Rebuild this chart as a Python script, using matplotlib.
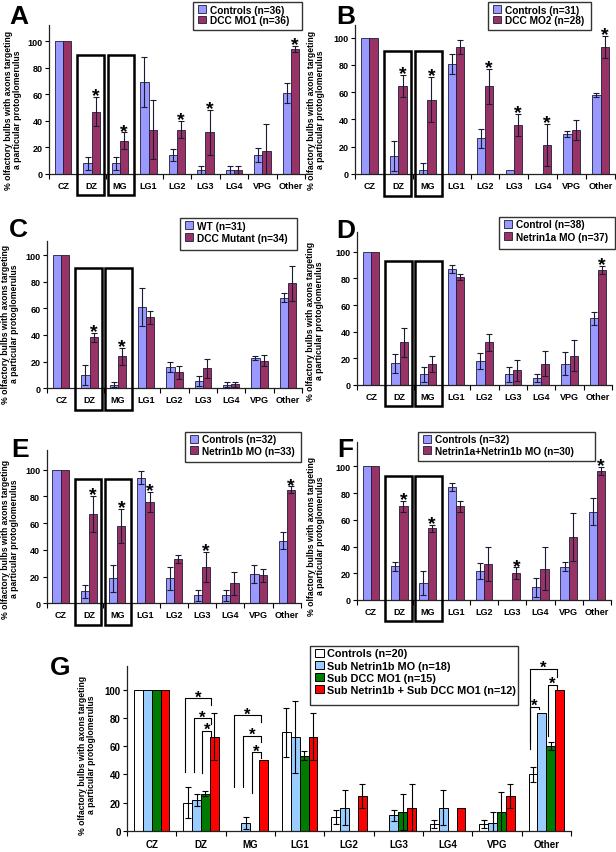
import numpy as np
import matplotlib
matplotlib.use('Agg')
import matplotlib.pyplot as plt
from matplotlib.patches import Rectangle, Patch

plt.rcParams['font.family'] = ['Liberation Sans', 'DejaVu Sans']
plt.rcParams['font.weight'] = 'bold'

# ------------------------------------------------------------
# data
# ------------------------------------------------------------
cats = ['CZ', 'DZ', 'MG', 'LG1', 'LG2', 'LG3', 'LG4', 'VPG', 'Other']

# A
a_labels = ['Controls (n=36)', 'DCC MO1 (n=36)']
a_ctrl = [100, 8, 8, 69.5, 14.3, 3, 3, 14.3, 61]
a_ctrl_err = [0, 5, 5, 19, 4.5, 2.7, 2.7, 5.5, 7.3]
a_mo = [100, 47, 25, 33.4, 33.4, 31.4, 3, 17, 94]
a_mo_err = [0, 11, 6.3, 22, 6.6, 17, 2.7, 20.6, 2.3]
a_star = [1, 2, 4, 5, 8]

# B
b_labels = ['Controls (n=31)', 'DCC MO2 (n=28)']
b_ctrl = [100, 13.4, 3.2, 81, 26.2, 3.2, 0, 29.3, 58]
b_ctrl_err = [0, 11, 4.6, 7.3, 6.8, 0, 0, 2.5, 1.2]
b_mo = [100, 64.3, 54.5, 93, 64.3, 36, 21.3, 32.3, 93.4]
b_mo_err = [0, 8, 16.4, 5.3, 12.7, 7.8, 15.4, 7.6, 8]
b_star = [1, 2, 4, 5, 6, 8]

# C
c_labels = ['WT (n=31)', 'DCC Mutant (n=34)']
c_ctrl = [100, 10, 2.8, 61, 15.8, 5.8, 2.8, 23, 68]
c_ctrl_err = [0, 7.5, 1.8, 14, 3.8, 3.8, 1.8, 1.5, 3.5]
c_mo = [100, 38.3, 24, 53.3, 12, 15, 3, 20.8, 78.8]
c_mo_err = [0, 3.3, 6.3, 5, 5, 7, 2, 4.2, 13.2]
c_star = [1, 2]

# D
d_labels = ['Control (n=38)', 'Netrin1a MO (n=37)']
d_ctrl = [100, 16.3, 8, 87, 18, 8, 5, 16, 50]
d_ctrl_err = [0, 7, 5.8, 3, 6, 5.8, 3, 8.5, 5]
d_mo = [100, 32, 16, 81, 32, 11, 16, 22, 86.3]
d_mo_err = [0, 10.8, 6, 2, 6.3, 8, 9.3, 11.8, 3.3]
d_star = [8]

# E
e_labels = ['Controls (n=32)', 'Netrin1b MO (n=33)']
e_ctrl = [100, 9, 18.8, 94, 18.8, 6, 6, 22, 46.8]
e_ctrl_err = [0, 5, 10.2, 5, 8.7, 4.3, 4.3, 6.8, 6.3]
e_mo = [100, 66.8, 58, 76, 33.3, 27, 15, 21, 85]
e_mo_err = [0, 13.8, 12.5, 7.5, 3, 11.3, 8.8, 4.8, 2.5]
e_star = [1, 2, 3, 5, 8]

# F
f_labels = ['Controls (n=32)', 'Netrin1a+Netrin1b MO (n=30)']
f_ctrl = [100, 25.2, 12.6, 84.5, 22, 0, 9.4, 25, 66]
f_ctrl_err = [0, 3.5, 9.1, 3, 6, 0, 6.9, 3.5, 10]
f_mo = [100, 70, 53.6, 70, 26.7, 20, 23.5, 47, 96.5]
f_mo_err = [0, 4.3, 2.5, 4.3, 12.6, 4.4, 15.8, 18, 3]
f_star = [1, 2, 5, 8]

# G
g_labels = ['Controls (n=20)', 'Sub Netrin1b MO (n=18)', 'Sub DCC MO1 (n=15)',
            'Sub Netrin1b + Sub DCC MO1 (n=12)']
g_ctrl = [100, 20, 0, 69.9, 9.9, 0, 4.7, 5, 40]
g_ctrl_err = [0, 11, 0, 17.2, 5.2, 0, 2.8, 3, 5.5]
g_n1b = [100, 22.1, 5.6, 66.8, 16.5, 11, 16.5, 5.5, 83.3]
g_n1b_err = [0, 4.3, 4.2, 25.4, 12.5, 3.6, 12.5, 8, 0]
g_dcc = [100, 26.4, 0, 53.4, 0, 13.4, 0, 13.3, 60]
g_dcc_err = [0, 1.9, 0, 3.5, 0, 12.5, 0, 14, 3]
g_both = [100, 66.8, 50, 66.8, 24.7, 16.5, 16.5, 25, 100]
g_both_err = [0, 16.7, 0, 16.7, 8.7, 16.7, 0, 8.5, 0]
# significance brackets: (category, bar from, bar to, leg low from, top, leg low to)
g_brackets = [
    (1, 0, 3, 41.5, 93.9, 89.2),
    (1, 1, 3, 41.5, 79.7, 75.7),
    (1, 2, 3, 41.0, 71.0, 67.0),
    (2, 0, 3, 31.0, 82.0, 77.4),
    (2, 1, 3, 31.0, 67.5, 63.2),
    (2, 2, 3, 27.0, 55.7, 52.0),
    (8, 0, 3, 62.7, 114.8, 109.0),
    (8, 2, 3, 67.0, 103.5, 100.5),
    (8, 0, 1, 58.0, 88.0, 86.0),
]

# ------------------------------------------------------------
# layout helpers
# ------------------------------------------------------------
W, H = 616, 853
fig = plt.figure(figsize=(W / 100, H / 100), dpi=100)

BLUE = '#9999FF'
MAROON = '#993366'
EDGE = '#1c1c3a'
YLABEL = '% olfactory bulbs with axons targeting\na particular protoglomerulus'


def make_ax(left, right, y0, y100, ymax):
    ppu = (y0 - y100) / 100
    ax = fig.add_axes([left / W, 1 - y0 / H, (right - left) / W, ppu * ymax / H])
    ax.set_ylim(0, ymax)
    ax.set_xlim(-0.5, 8.5)
    for s in ['top', 'right']:
        ax.spines[s].set_visible(False)
    for s in ['left', 'bottom']:
        ax.spines[s].set_linewidth(0.9)
        ax.spines[s].set_color('#222222')
    ax.set_yticks(range(0, 101, 20))
    ax.tick_params(axis='y', direction='out', length=3, width=0.8, labelsize=6.5, pad=1.5)
    ax.set_xticks(range(9))
    ax.set_xticklabels(cats)
    ax.set_xticks(np.arange(-0.5, 9, 1), minor=True)
    ax.tick_params(axis='x', which='major', length=0, labelsize=6.5, pad=5)
    ax.tick_params(axis='x', which='minor', direction='out', length=3.5, width=0.8)
    return ax


def star(ax, x, yc, fs=14):
    ax.annotate('*', (x, yc), xytext=(0, -0.546 * fs), textcoords='offset points',
                ha='center', va='baseline', fontsize=fs, fontweight='bold',
                annotation_clip=False)


def boxed_legend(ax, handles, labels, box, spacing, size=7.3):
    # frame drawn by hand so its size follows the reference
    x0, y0, x1, y1 = box
    ax.add_patch(Rectangle((x0 / W, 1 - y1 / H), (x1 - x0) / W, (y1 - y0) / H,
                           transform=fig.transFigure, fill=True, facecolor='white',
                           edgecolor='#333333', linewidth=1.0, zorder=5.5,
                           clip_on=False))
    leg = ax.legend(handles, labels, loc='upper left',
                    bbox_to_anchor=((x0 + 5) / W, 1 - (y0 + 2.5) / H),
                    bbox_transform=fig.transFigure, borderaxespad=0, borderpad=0,
                    frameon=False, prop={'weight': 'bold', 'size': size},
                    handlelength=0.8, handleheight=0.8, handletextpad=0.35,
                    labelspacing=spacing)
    leg.set_zorder(6)
    return leg


def pair_panel(ax, ctrl, ctrl_err, mo, mo_err, stars, labels, box_top,
               letter, letter_xy, ylab_xy, leg_box, leg_sp):
    x = np.arange(len(cats))
    w = 0.29
    ax.bar(x - w / 2, ctrl, w, color=BLUE, edgecolor=EDGE, linewidth=0.6)
    ax.bar(x + w / 2, mo, w, color=MAROON, edgecolor=EDGE, linewidth=0.6)
    for off, vals, errs in [(-w / 2, ctrl, ctrl_err), (w / 2, mo, mo_err)]:
        idx = [i for i in range(len(cats)) if errs[i] > 0]
        ax.errorbar(x[idx] + off, np.array(vals)[idx], yerr=np.array(errs)[idx],
                    fmt='none', ecolor='#1a1a33', elinewidth=0.8, capsize=2, capthick=0.8)
    for i in stars:
        star(ax, x[i] + w / 2, mo[i] + mo_err[i] + 5.5)
    # boxes round DZ and MG
    for c in [0.97, 2.03]:
        ax.add_patch(Rectangle((c - 0.47, -16), 0.94, box_top + 16, fill=False,
                               edgecolor='black', linewidth=1.8, clip_on=False, zorder=5))
    handles = [Patch(facecolor=BLUE, edgecolor=EDGE, linewidth=0.6),
               Patch(facecolor=MAROON, edgecolor=EDGE, linewidth=0.6)]
    boxed_legend(ax, handles, labels, leg_box, leg_sp)
    fig.text(letter_xy[0] / W, 1 - letter_xy[1] / H, letter, fontsize=19,
             fontweight='bold', ha='left', va='baseline')
    fig.text(ylab_xy[0] / W, 1 - ylab_xy[1] / H, YLABEL, rotation=90, ha='center',
             va='center', multialignment='center', fontsize=6.2, fontweight='bold',
             linespacing=1.05)


# ------------------------------------------------------------
# panels A-F
# ------------------------------------------------------------
ax_a = make_ax(49, 305, 175, 42.3, 112)
pair_panel(ax_a, a_ctrl, a_ctrl_err, a_mo, a_mo_err, a_star, a_labels, 90,
           'A', (9, 24), (13, 110), (193, 3, 302, 31), 0.05)

ax_b = make_ax(355, 615, 175, 38.7, 109)
pair_panel(ax_b, b_ctrl, b_ctrl_err, b_mo, b_mo_err, b_star, b_labels, 90,
           'B', (336, 24), (316, 110), (488, 3, 591, 31), 0.05)

ax_c = make_ax(47, 302, 389.3, 256, 110.5)
pair_panel(ax_c, c_ctrl, c_ctrl_err, c_mo, c_mo_err, c_star, c_labels, 90,
           'C', (9, 237), (10, 324), (180, 219, 297, 251), 0.2)

ax_d = make_ax(357, 612, 386, 252.7, 114.5)
pair_panel(ax_d, d_ctrl, d_ctrl_err, d_mo, d_mo_err, d_star, d_labels, 92.7,
           'D', (336, 238), (315, 321), (499, 218, 615, 250), 0.2)

ax_e = make_ax(46.5, 301, 604.3, 470.7, 115)
pair_panel(ax_e, e_ctrl, e_ctrl_err, e_mo, e_mo_err, e_star, e_labels, 92.7,
           'E', (11, 457), (10, 539), (185, 433, 301, 463), 0.12)

ax_f = make_ax(357, 611, 601, 467.3, 118)
pair_panel(ax_f, f_ctrl, f_ctrl_err, f_mo, f_mo_err, f_star, f_labels, 92.5,
           'F', (337, 457), (316, 536), (418, 433, 595, 462), 0.12)

# ------------------------------------------------------------
# panel G
# ------------------------------------------------------------
ax_g = make_ax(127, 571, 832, 690.7, 116.8)
ax_g.tick_params(axis='x', which='major', labelsize=7, pad=6)
ax_g.tick_params(axis='y', labelsize=7)
x = np.arange(len(cats))
wg = 0.18
offs = [-1.5 * wg, -0.5 * wg, 0.5 * wg, 1.5 * wg]
g_series = [(g_ctrl, g_ctrl_err, 'white'), (g_n1b, g_n1b_err, '#99CCFF'),
            (g_dcc, g_dcc_err, '#007A00'), (g_both, g_both_err, '#FF0000')]
for off, (vals, errs, col) in zip(offs, g_series):
    ax_g.bar(x + off, vals, wg, color=col, edgecolor='black', linewidth=0.7)
    idx = [i for i in range(len(cats)) if errs[i] > 0]
    ax_g.errorbar(x[idx] + off, np.array(vals)[idx], yerr=np.array(errs)[idx],
                  fmt='none', ecolor='black', elinewidth=0.8, capsize=2, capthick=0.8)

for c, i, j, lo_i, top, lo_j in g_brackets:
    xi = c + offs[i] - 0.06
    xj = c + offs[j] - 0.06
    ax_g.plot([xi, xi, xj, xj], [lo_i, top, top, lo_j], color='black', lw=0.8,
              clip_on=False)
    star(ax_g, (xi + xj) / 2, top + 4, fs=12)

g_handles = [Patch(facecolor=col, edgecolor='black', linewidth=0.7) for _, _, col in g_series]
boxed_legend(ax_g, g_handles, g_labels, (310, 647, 518, 706), 0.2, size=7.8)
fig.text(50 / W, 1 - 675 / H, 'G', fontsize=19, fontweight='bold', ha='left', va='baseline')
fig.text(87 / W, 1 - 755 / H, YLABEL, rotation=90, ha='center', va='center',
         multialignment='center', fontsize=6.2, fontweight='bold', linespacing=1.05)

fig.savefig('out.png', dpi=100)
